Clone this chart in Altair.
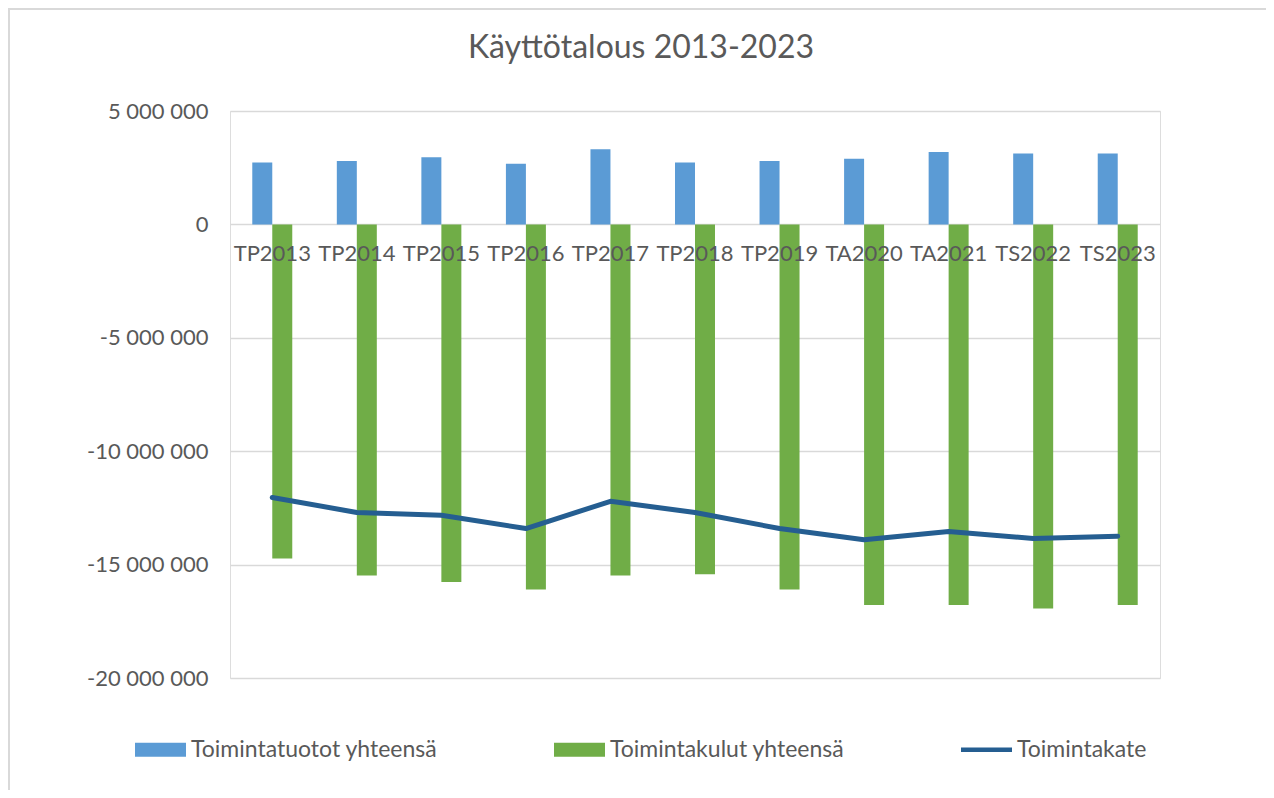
import altair as alt
import pandas as pd

categories = ["TP2013", "TP2014", "TP2015", "TP2016", "TP2017", "TP2018",
              "TP2019", "TA2020", "TA2021", "TS2022", "TS2023"]
tuotot = [2730000, 2790000, 2960000, 2670000, 3310000, 2730000,
          2790000, 2890000, 3190000, 3130000, 3130000]
kulut = [-14730000, -15480000, -15770000, -16100000, -15480000, -15430000,
         -16100000, -16780000, -16780000, -16940000, -16780000]
kate = [-12040000, -12700000, -12820000, -13410000, -12210000, -12700000,
        -13410000, -13900000, -13540000, -13850000, -13750000]
series_names = ["Toimintatuotot yhteensä", "Toimintakulut yhteensä", "Toimintakate"]
series_colors = ["#5B9BD5", "#70AD47", "#255E91"]
y_ticks = [-20000000, -15000000, -10000000, -5000000, 0, 5000000]
y_domain = [-20000000, 5000000]

W, H = 930, 567
FONT = "Lato"
GREY = "#595959"

bars = pd.DataFrame(
    [{"category": c, "series": series_names[0], "value": v} for c, v in zip(categories, tuotot)]
    + [{"category": c, "series": series_names[1], "value": v} for c, v in zip(categories, kulut)]
)
line = pd.DataFrame({"category": categories, "series": series_names[2], "value": kate})

zero_from_bottom = H * (0 - y_domain[0]) / (y_domain[1] - y_domain[0])

x_enc = alt.X(
    "category:N", sort=categories,
    scale=alt.Scale(paddingInner=0.527, paddingOuter=0.2635),
    axis=alt.Axis(title=None, orient="bottom", offset=-zero_from_bottom, labelAngle=0,
                  ticks=False, domain=False, labelPadding=19, labelFont=FONT,
                  labelFontSize=22, labelColor=GREY, labelOverlap=False,
                  labelBound=False, zindex=1, grid=False),
)
y_enc = alt.Y(
    "value:Q",
    scale=alt.Scale(domain=y_domain, nice=False, zero=False),
    axis=alt.Axis(title=None, values=y_ticks, grid=True, gridColor="#d9d9d9",
                  gridWidth=1.3, domain=False, ticks=False, labelPadding=22,
                  labelFont=FONT, labelFontSize=22, labelColor=GREY,
                  labelExpr="(datum.value < 0 ? '-' : '') + replace(format(abs(datum.value), ','), /,/g, ' ')"),
)

shape_expr = ("datum.value === '" + series_names[2] +
              "' ? 'M-1,-0.085H1V0.085H-1Z' : 'M-1,-0.27H1V0.27H-1Z'")
fill_expr = ("datum.value === '" + series_names[0] + "' ? '" + series_colors[0] + "' : (datum.value === '"
             + series_names[1] + "' ? '" + series_colors[1] + "' : '" + series_colors[2] + "')")

legend = alt.Legend(
    orient="none", legendX=-95, legendY=613, direction="horizontal", columns=3,
    title=None, columnPadding=116, symbolSize=2601, labelFont=FONT, labelFontSize=23,
    labelColor=GREY, labelOffset=5, symbolStrokeWidth=0, symbolOpacity=1,
    labelLimit=400,
    symbolType={"expr": shape_expr},
    symbolFillColor={"expr": fill_expr},
)
color_enc = alt.Color("series:N", scale=alt.Scale(domain=series_names, range=series_colors),
                      legend=legend)

bar_layer = alt.Chart(bars).mark_bar().encode(
    x=x_enc, y=y_enc, color=color_enc,
    xOffset=alt.XOffset("series:N", scale=alt.Scale(domain=series_names[:2], paddingInner=0, paddingOuter=0)),
)
line_layer = alt.Chart(line).mark_line(strokeWidth=5, strokeJoin="round", strokeCap="round").encode(
    x=x_enc, y=y_enc, color=color_enc,
)

dummy = pd.DataFrame({"k": [0]})
border_top = alt.Chart(dummy).mark_rule(color="#d9d9d9", strokeWidth=2).encode(
    x=alt.value(-221), x2=alt.value(W + 106), y=alt.value(-102))
border_left = alt.Chart(dummy).mark_rule(color="#d9d9d9", strokeWidth=2).encode(
    x=alt.value(-221), y=alt.value(-103), y2=alt.value(H + 112))

chart = alt.layer(bar_layer, line_layer, border_top, border_left).properties(
    width=W, height=H,
    title=alt.TitleParams("Käyttötalous 2013-2023", font=FONT, fontSize=32, color=GREY,
                          fontWeight="normal", anchor="middle", dx=-54, offset=-83,
                          baseline="alphabetic"),
    autosize=alt.AutoSizeParams(type="none"),
    padding={"left": 222, "top": 103, "right": 106, "bottom": 112},
).configure_view(stroke=None).configure(background="white")

chart.save("out.html", embed_options={"renderer": "svg", "actions": False})
